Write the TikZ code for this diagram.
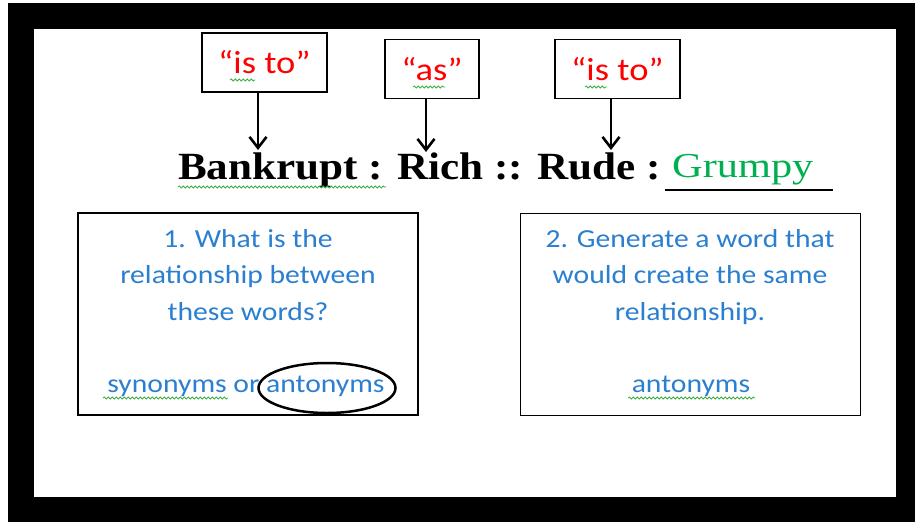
\documentclass[tikz,border=0pt]{standalone}
\usepackage{fontspec}
\usetikzlibrary{arrows.meta,positioning,shapes.geometric,decorations.pathmorphing}
\newfontfamily\anlsans[FakeStretch=1.14]{Carlito}
\newfontfamily\anlserif[FakeStretch=1.12]{Liberation Serif}
\newfontfamily\anlanswerfont[FakeStretch=1.21]{Liberation Serif}
\definecolor{AnlRed}{HTML}{FF0000}
\definecolor{AnlBlue}{HTML}{2A7FD0}
\definecolor{AnlGreen}{HTML}{00B050}
\definecolor{AnlWave}{HTML}{3CB043}
\tikzset{
  anlcue/.style={
    draw=black,
    line width=1.8pt,
    minimum height=59pt,
    inner sep=0pt,
    text=AnlRed,
    font=\anlsans\fontsize{32}{36}\selectfont
  },
  anlquestion/.style={
    draw=black,
    line width=1.8pt,
    minimum width=340pt,
    minimum height=202pt,
    inner sep=0pt
  },
  anltext/.style={
    text=AnlBlue,
    align=center,
    inner sep=0pt,
    font=\anlsans\fontsize{26}{36.5}\selectfont
  },
  anlarrow/.style={-{Straight Barb[length=11pt,width=17pt]},line width=2.6pt},
  anlwave/.style={draw=AnlWave,line width=0.8pt,decorate,decoration={snake,segment length=4pt,amplitude=1pt}},
  anlring/.style={draw=black,ellipse,line width=2.5pt,minimum width=137pt,minimum height=50pt,inner sep=0pt}
}

\begin{document}
\begin{tikzpicture}[x=1pt,y=-1pt]
    \fill[white] (0,0) rectangle (915,522);
    \fill[black] (8,3) rectangle (915,522);
    \fill[white] (34,29) rectangle (896,497);
    \node[anlcue,minimum width=125pt] (cueone) at (264.5,62.5) {“is to”};
    \node[anlcue,minimum width=94pt] (cuetwo) at (432,69) {“as”};
    \node[anlcue,minimum width=125pt] (cuethree) at (617.5,69) {“is to”};
    \node[anchor=base west,inner sep=0pt,font=\anlserif\bfseries\fontsize{38.5}{42}\selectfont] (chain) at (178,179) {Bankrupt : Rich :: Rude :};
    \node[anchor=base west,inner sep=0pt,text=AnlGreen,font=\anlanswerfont\fontsize{35}{40}\selectfont] (answer) at (672,177) {Grumpy};
    \coordinate (hitone) at (258,150);
    \coordinate (hittwo) at (426,152);
    \coordinate (hitthree) at (611,150);
    \draw[anlarrow] (cueone.south -| hitone) -- (hitone);
    \draw[anlarrow] (cuetwo.south -| hittwo) -- (hittwo);
    \draw[anlarrow] (cuethree.south -| hitthree) -- (hitthree);
    \draw[line width=1.5pt] (665,190) -- (833,190);
    \node[anlquestion] (qone) at (248,314) {};
    \node[anlquestion] (qtwo) at (690.5,314.5) {};
    \node[anltext,anchor=base] (qonetext) at (248,320) {1. What is the\\relationship between\\these words?};
    \node[anltext,anchor=base] (qonepick) at (246,392) {synonyms or antonyms};
    \node[anltext,anchor=base] (qtwotext) at (690,320) {2. Generate a word that\\would create the same\\relationship.};
    \node[anltext,anchor=base] (qtwopick) at (691,392) {antonyms};
    \node[anlring] (ring) at (327,388) {};
    \draw[anlwave] (178,187) -- (386,187);
    \draw[anlwave] (230,80) -- (255,80);
    \draw[anlwave] (413,87) -- (445,87);
    \draw[anlwave] (585,87) -- (607,87);
    \draw[anlwave] (103,398) -- (228,398);
    \draw[anlwave] (628,398) -- (755,398);
\end{tikzpicture}
\end{document}
